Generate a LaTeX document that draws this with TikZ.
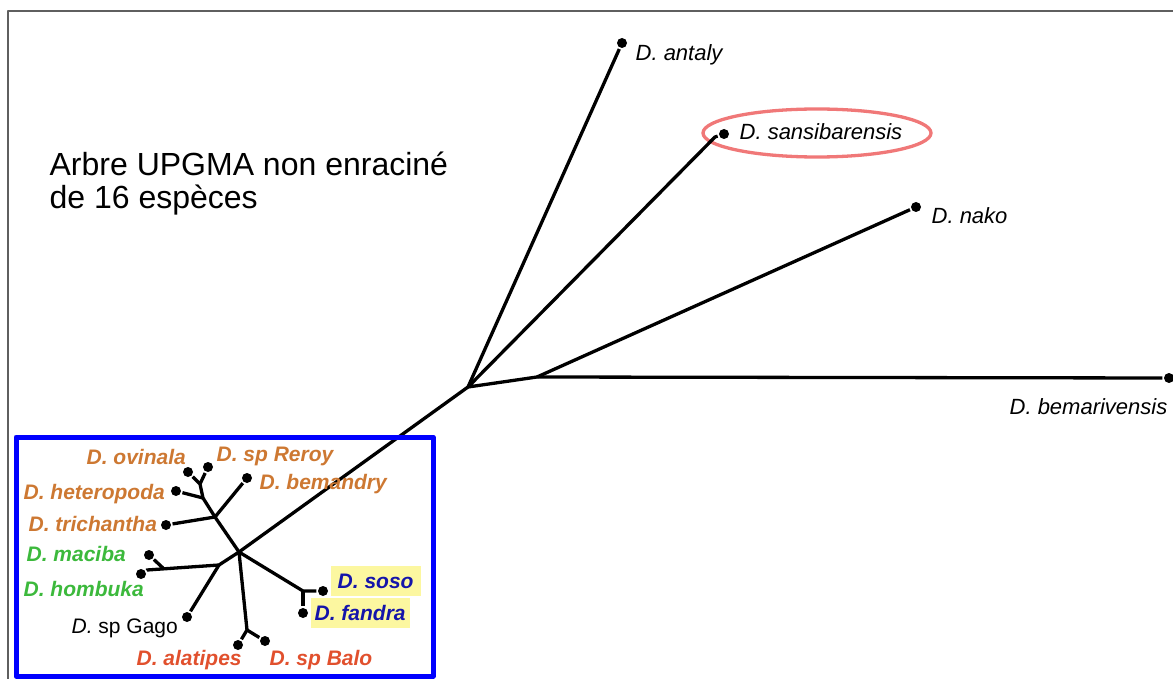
\documentclass[tikz,border=0pt]{standalone}
\usepackage{fontspec}
\setmainfont{Liberation Sans}
\definecolor{spOrange}{RGB}{205,120,50}
\definecolor{spGreen}{RGB}{60,185,60}
\definecolor{spRed}{RGB}{225,80,45}
\definecolor{spBlue}{RGB}{20,20,170}
\definecolor{spYellow}{RGB}{252,247,160}
\definecolor{ringPink}{RGB}{240,120,120}
\definecolor{frameGray}{RGB}{95,95,95}

\begin{document}
\begin{tikzpicture}[x=1pt, y=-1pt, line width=3.3pt, line join=round,
                    every node/.style={inner sep=0pt},
                    dot/.style={circle, fill=black, minimum size=10pt},
                    lab/.style={anchor=mid west, font=\fontsize{22}{24}\selectfont\itshape},
                    sp/.style={anchor=mid west, font=\fontsize{21}{24}\selectfont\bfseries\itshape},
                    hl/.style={sp, anchor=west, fill=spYellow, inner xsep=4pt, minimum height=30pt}]
\useasboundingbox (0,0) rectangle (1173,679);
\draw[frameGray, line width=2pt] (8,679) -- (8,11) -- (1173,11);
\node[anchor=base west, align=left, font=\fontsize{32}{33}\selectfont] (title) at (48,209)
  {Arbre UPGMA non enraciné\\de 16 espèces};

\coordinate (h1) at (468,387);
\coordinate (h2) at (537,377);
\coordinate (hook) at (715,137);
\node[dot] (antaly) at (622,43) {};
\node[dot] (sansi) at (724,134) {};
\node[dot] (nako) at (916,207) {};
\node[dot] (bemar) at (1169,378) {};
\node[lab] (antalyT) at (634,58) {D. antaly};
\node[lab] (sansiT) at (738,137) {D. sansibarensis};
\node[lab] (nakoT) at (930,221) {D. nako};
\node[lab] (bemarT) at (1008,412) {D. bemarivensis};
\draw[ringPink] (817,133) ellipse [x radius=114, y radius=24];

\coordinate (c) at (239,552);
\coordinate (a) at (215,517);
\coordinate (b) at (203,498);
\coordinate (b2) at (200,484);
\coordinate (d) at (219,565);
\coordinate (e) at (163,568);
\coordinate (eEnd) at (147,570);
\coordinate (f) at (247,630);
\coordinate (g) at (303,591);
\node[dot] (ovinala) at (188,472) {};
\node[dot] (reroy) at (208,467) {};
\node[dot] (hetero) at (176,491) {};
\node[dot] (tricha) at (166,525) {};
\node[dot] (bemand) at (247,478) {};
\node[dot] (maciba) at (149,555) {};
\node[dot] (hombuka) at (141,574) {};
\node[dot] (gago) at (187,617) {};
\node[dot] (alati) at (238,645) {};
\node[dot] (balo) at (265,641) {};
\node[dot] (soso) at (323,591) {};
\node[dot] (fandra) at (303,613) {};

\draw (antaly) -- (h1) -- (c);
\draw (sansi) -- (hook) -- (h1) -- (h2) -- (bemar);
\draw (h2) -- (nako);
\draw (c) -- (a) -- (b) -- (b2) -- (ovinala);
\draw (b2) -- (reroy);
\draw (b) -- (hetero);
\draw (a) -- (tricha);
\draw (a) -- (bemand);
\draw (c) -- (d) -- (eEnd) -- (hombuka);
\draw (e) -- (maciba);
\draw (d) -- (gago);
\draw (c) -- (f) -- (alati);
\draw (f) -- (balo);
\draw (c) -- (g) -- (soso);
\draw (g) -- (fandra);

\node[sp, spOrange] (ovinalaT) at (85,462) {D. ovinala};
\node[sp, spOrange] (reroyT) at (215,459) {D. sp Reroy};
\node[sp, spOrange] (bemandT) at (258,487) {D. bemandry};
\node[sp, spOrange] (heteroT) at (22,497) {D. heteropoda};
\node[sp, spOrange] (trichaT) at (27,529) {D. trichantha};
\node[sp, spGreen] (macibaT) at (25,559) {D. maciba};
\node[sp, spGreen] (hombukaT) at (22,594) {D. hombuka};
\node[sp, font=\fontsize{21}{24}\selectfont] (gagoT) at (70,631) {\textit{D.} sp Gago};
\node[sp, spRed] (alatiT) at (135,663) {D. alatipes};
\node[sp, spRed] (baloT) at (268,663) {D. sp Balo};
\node[hl, text=spBlue, minimum width=90pt] (sosoT) at (329,581) {D. soso};
\node[hl, text=spBlue] (fandraT) at (309,613) {D. fandra};
\draw[blue, line width=5pt] (16,437) rectangle (433,676);
\end{tikzpicture}
\end{document}
